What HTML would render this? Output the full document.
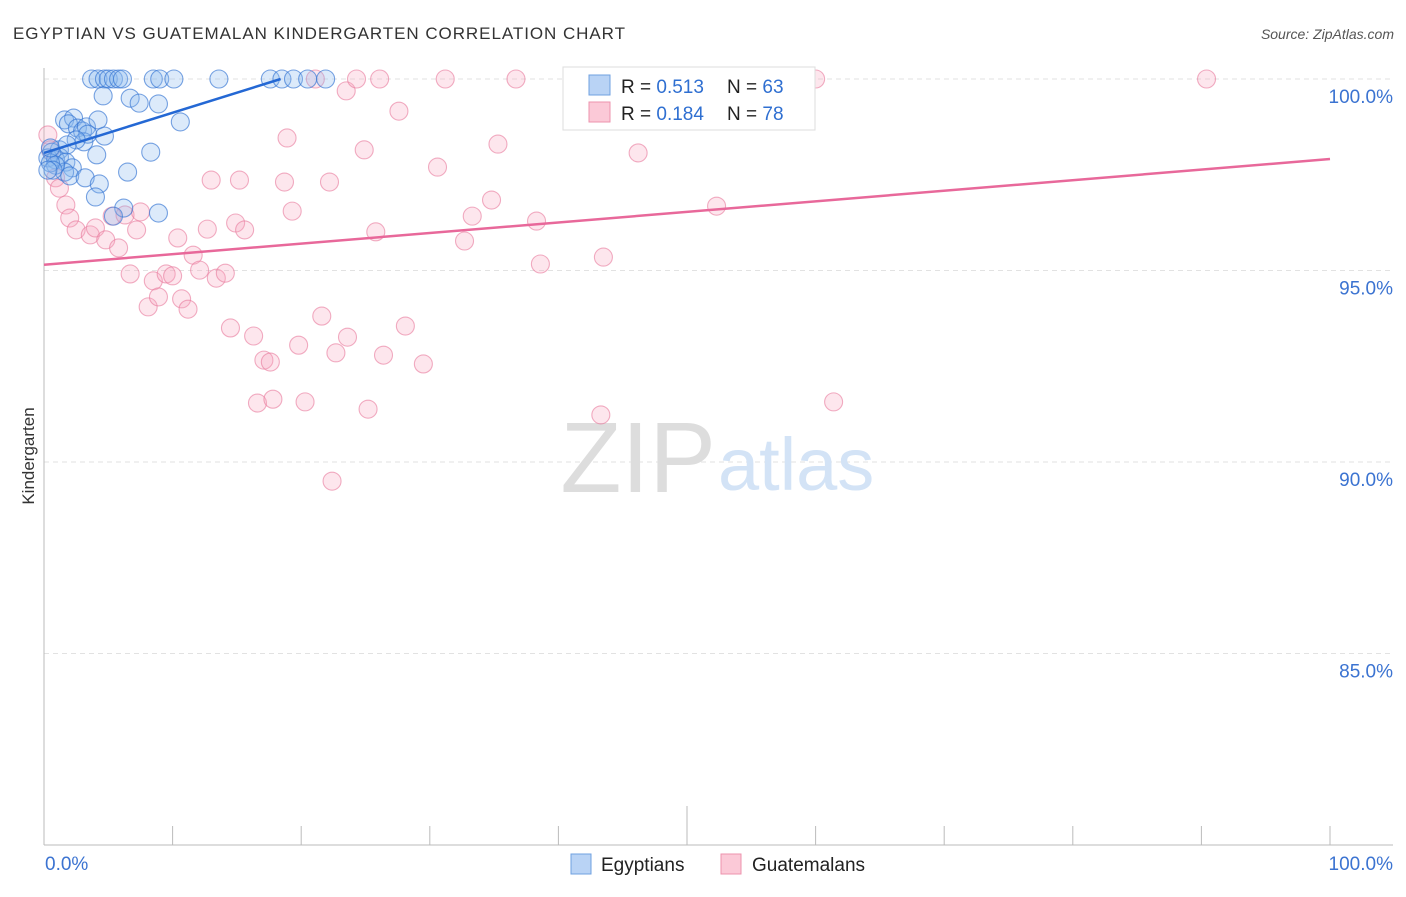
<!DOCTYPE html>
<html><head><meta charset="utf-8"><style>
body{margin:0;background:#fff;font-family:"Liberation Sans",sans-serif;}
svg text{font-family:"Liberation Sans",sans-serif;}
</style></head><body>
<svg id="chart" width="1406" height="892" viewBox="0 0 1406 892">
<text x="13" y="39" font-size="17" fill="#333" textLength="612">EGYPTIAN VS GUATEMALAN KINDERGARTEN CORRELATION CHART</text>
<text x="1394" y="39" font-size="14" fill="#555" font-style="italic" text-anchor="end">Source: ZipAtlas.com</text>
<text x="34" y="456" font-size="17" fill="#333" transform="rotate(-90 34 456)" text-anchor="middle">Kindergarten</text>
<g id="grid"></g>
<text x="716" y="492" font-size="100" fill="#ddd" text-anchor="end" font-family="Liberation Serif">ZIP</text>
<text x="718" y="490" font-size="74" fill="#d3e3f6">atlas</text>
<g id="pts"></g>
<g id="lines"></g>
<g>
<rect x="563" y="67" width="252" height="63" fill="#fff" stroke="#ddd"/>
<rect x="589" y="75" width="21" height="20" fill="#b9d3f5" stroke="#6fa0e0"/>
<rect x="589" y="102" width="21" height="20" fill="#fbc9d7" stroke="#ec93ae"/>
<text x="621" y="93" font-size="19" fill="#222">R = <tspan fill="#2f6fd1">0.513</tspan></text>
<text x="727" y="93" font-size="19" fill="#222">N = <tspan fill="#2f6fd1">63</tspan></text>
<text x="621" y="120" font-size="19" fill="#222">R = <tspan fill="#2f6fd1">0.184</tspan></text>
<text x="727" y="120" font-size="19" fill="#222">N = <tspan fill="#2f6fd1">78</tspan></text>
</g>
<g>
<rect x="571" y="854" width="20" height="20" fill="#b9d3f5" stroke="#6fa0e0"/>
<text x="601" y="871" font-size="19" fill="#222">Egyptians</text>
<rect x="721" y="854" width="20" height="20" fill="#fbc9d7" stroke="#ec93ae"/>
<text x="752" y="871" font-size="19" fill="#222">Guatemalans</text>
</g>
</svg>
<script>
const xTicks=[0,10,20,30,40,50,60,70,80,90,100];
const yTicks=[100,95,90,85];
const yTickLabels=["100.0%","95.0%","90.0%","85.0%"];
const xTickLabels=["0.0%","100.0%"];
const egyX=[3.7,4.2,4.7,5.0,5.4,5.8,6.1,8.5,9.0,10.1,13.6,17.6,18.5,19.4,20.5,21.9,4.6,6.7,7.4,8.9,10.6,1.6,2.3,1.9,2.6,3.0,3.3,4.2,4.7,3.1,3.4,4.1,1.2,0.6,0.3,0.9,1.2,1.7,2.2,1.6,0.9,0.5,2.0,3.2,4.3,6.5,8.3,4.0,6.2,8.9,5.4,0.5,0.7,2.5,1.8,0.3];
const egyY=[100,100,100,100,100,100,100,100,100,100,100,100,100,100,100,100,99.56,99.5,99.37,99.35,98.88,98.93,98.98,98.83,98.72,98.64,98.75,98.93,98.51,98.36,98.56,98.02,98.15,98.09,97.94,97.89,97.96,97.83,97.68,97.57,97.75,97.81,97.47,97.42,97.26,97.57,98.09,96.92,96.63,96.5,96.42,98.2,97.62,98.41,98.28,97.62];
const guaX=[0.3,0.5,0.9,1.2,1.7,2.0,2.5,3.6,4.0,4.8,5.8,5.3,6.3,7.2,7.5,6.7,8.1,8.5,8.9,9.5,10.0,10.4,10.7,11.2,11.6,12.1,12.7,13.0,13.4,14.1,14.5,14.9,15.2,15.6,16.3,16.6,17.1,17.6,17.8,18.7,18.9,19.3,19.8,20.3,21.1,21.6,22.2,22.4,22.7,23.5,23.6,24.3,24.9,25.2,25.8,26.1,26.4,27.6,28.1,29.5,30.6,31.2,32.7,33.3,34.8,35.3,36.7,38.3,38.6,43.3,43.5,46.2,52.3,58.6,60.0,61.4,90.4];
const guaY=[98.54,98.15,97.42,97.15,96.71,96.37,96.06,95.93,96.11,95.8,95.59,96.42,96.45,96.06,96.53,94.91,94.05,94.73,94.31,94.91,94.86,95.85,94.26,93.99,95.4,95.01,96.08,97.36,94.8,94.93,93.5,96.24,97.36,96.06,93.29,91.54,92.66,92.61,91.64,97.31,98.46,96.55,93.05,91.57,100,93.81,97.31,89.5,92.85,99.69,93.26,100,98.15,91.38,96.01,100,92.79,99.16,93.55,92.56,97.7,100,95.77,96.42,96.84,98.3,100,96.29,95.17,91.23,95.35,98.07,96.68,100,100,91.57,100];
const egyLine=[0,18.4,98.07,100];
const guaLine=[0,100,95.15,97.91];
const X=v=>44+v*12.86, Y=v=>79+(100-v)*38.3;
const NS="http://www.w3.org/2000/svg";
function mk(t,a,p){const e=document.createElementNS(NS,t);for(const k in a)e.setAttribute(k,a[k]);p.appendChild(e);return e;}
const grid=document.getElementById('grid');
yTicks.forEach((t,i)=>{
 const l=mk('line',{x1:44,x2:1393,y1:Y(t),y2:Y(t),stroke:'#e2e2e2','stroke-dasharray':'5,4'},grid);
 
 
 const tx=mk('text',{x:1393,y:Y(t)+24,'font-size':19,fill:'#3b73d1','text-anchor':'end'},grid);tx.textContent=yTickLabels[i];
 
 
});
const ax=mk('line',{x1:44,x2:1393,y1:845,y2:845,stroke:'#bbb'},grid);


const ay=mk('line',{x1:44,x2:44,y1:68,y2:845,stroke:'#bbb'},grid);


xTicks.forEach(t=>{const l=mk('line',{x1:X(t),x2:X(t),y1:t===50?806:826,y2:845,stroke:'#bbb'},grid);
 
 });
[[0,'start'],[100,'end']].forEach((p,i)=>{const tx=mk('text',{x:i?1393:45,y:870,'font-size':19,fill:'#3b73d1','text-anchor':p[1]},grid);tx.textContent=xTickLabels[i];
 
 });
const pts=document.getElementById('pts');
guaX.forEach((x,i)=>{const c=mk('circle',{cx:X(x),cy:Y(guaY[i]),r:9,fill:'rgba(247,167,190,0.28)',stroke:'rgba(232,120,155,0.6)','stroke-width':1.1},pts);
 
 });
egyX.forEach((x,i)=>{const c=mk('circle',{cx:X(x),cy:Y(egyY[i]),r:9,fill:'rgba(140,185,240,0.3)',stroke:'rgba(50,115,210,0.65)','stroke-width':1.1},pts);
 
 });
const lines=document.getElementById('lines');
const lb=mk('line',{x1:X(egyLine[0]),x2:X(egyLine[1]),y1:Y(egyLine[2]),y2:Y(egyLine[3]),stroke:'#2468d4','stroke-width':2.5},lines);


const lp=mk('line',{x1:X(guaLine[0]),x2:X(guaLine[1]),y1:Y(guaLine[2]),y2:Y(guaLine[3]),stroke:'#e8689a','stroke-width':2.5},lines);


</script>
</body></html>
